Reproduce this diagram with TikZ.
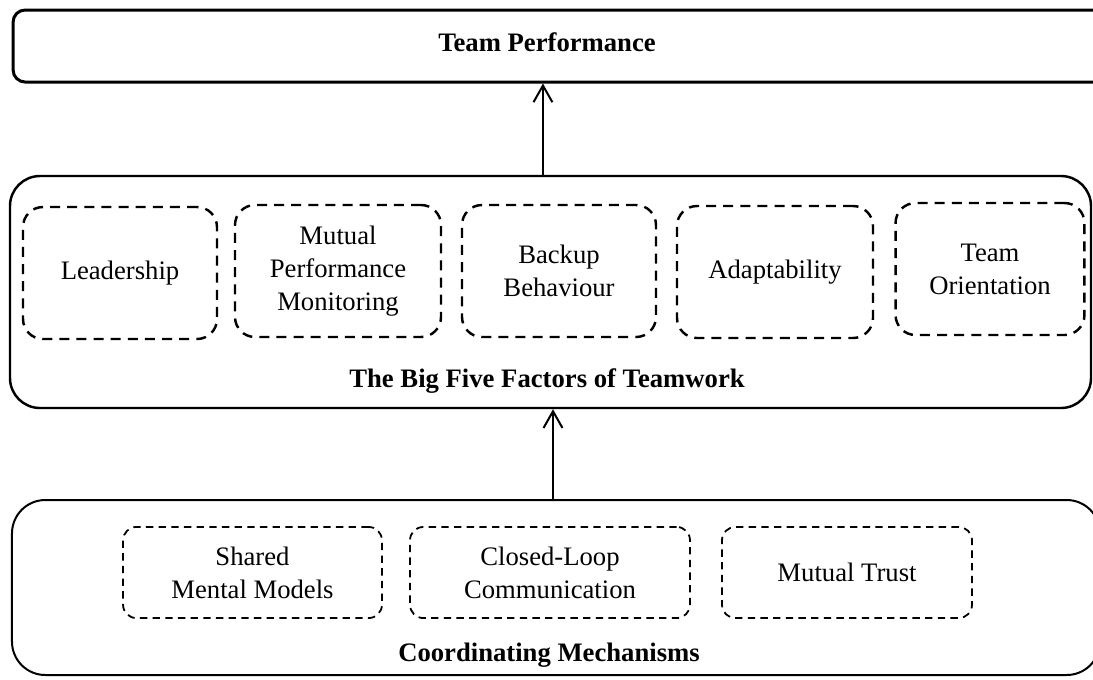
\documentclass[tikz,border=0pt]{standalone}
\usepackage{fontspec}
\setmainfont{Liberation Serif}
\usetikzlibrary{arrows.meta}

\begin{document}
\begin{tikzpicture}[x=0.45pt,y=-0.45pt,
    txt/.style={font=\fontsize{12}{14.8}\selectfont, align=center},
    factor/.style={txt, draw, line width=1.1pt, dash pattern=on 4.5pt off 3.2pt,
        rounded corners=9pt, minimum height=59.4pt, inner sep=0pt},
    mechanism/.style={txt, draw, line width=0.8pt, dash pattern=on 3.3pt off 2.4pt,
        rounded corners=6pt, minimum height=41pt, inner sep=0pt},
    upArrow/.style={line width=0.9pt, -{Straight Barb[length=7.5pt,width=8.5pt,line width=0.9pt]}}]
    \useasboundingbox (0,0) rectangle (1093,679);

    % Levels
    \node[draw, line width=1.35pt, rounded corners=5.4pt, minimum width=494pt,
        minimum height=32.4pt, inner sep=0pt] (perf) at (562,46) {};
    \node[draw, line width=1.1pt, rounded corners=13.5pt, minimum width=486.45pt,
        minimum height=104.4pt, inner sep=0pt] (bigfive) at (550.5,292) {};
    \node[draw, line width=0.9pt, rounded corners=15pt, minimum width=489.6pt,
        minimum height=78.75pt, inner sep=0pt] (coord) at (556,587.5) {};

    \node[txt, font=\fontsize{12}{14.8}\selectfont\bfseries] (perflabel) at (547,42) {Team Performance};
    \node[txt, font=\fontsize{12}{14.8}\selectfont\bfseries] (bigfivelabel) at (547,381) {The Big Five Factors of Teamwork};
    \node[txt, font=\fontsize{12}{14.8}\selectfont\bfseries] (coordlabel) at (549,655) {Coordinating Mechanisms};

    % Big five
    \node[factor, minimum width=87.3pt] (lead) at (120,273) {Leadership};
    \node[factor, minimum width=92.7pt] (monitor) at (338,271) {Mutual\\Performance\\Monitoring};
    \node[factor, minimum width=87.3pt] (backup) at (559,271) {Backup\\Behaviour};
    \node[factor, minimum width=88.2pt] (adapt) at (775,272) {Adaptability};
    \node[factor, minimum width=85pt] (orient) at (990,269) {Team\\Orientation};

    % Coordinating mechanisms
    \node[mechanism, minimum width=116.5pt] (models) at (252.5,572.5) {Shared\\Mental Models};
    \node[mechanism, minimum width=126pt] (loop) at (550,572.5) {Closed-Loop\\Communication};
    \node[mechanism, minimum width=112.5pt] (trust) at (847,572.5) {Mutual Trust};

    \draw[upArrow] ([xshift=-3.4pt]bigfive.north) -- ([xshift=-3.4pt]bigfive.north |- perf.south);
    \draw[upArrow] ([xshift=-1.35pt]coord.north) -- ([xshift=-1.35pt]coord.north |- bigfive.south);
\end{tikzpicture}
\end{document}
